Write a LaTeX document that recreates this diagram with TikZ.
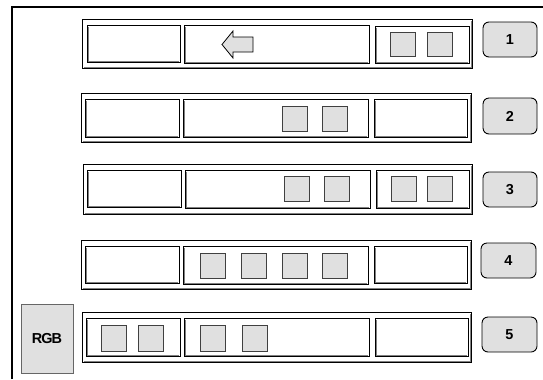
\documentclass[tikz,border=0pt]{standalone}
\usepackage{fontspec}
\setmainfont{Liberation Sans}
\definecolor{lgray}{HTML}{E0E0E0}
\definecolor{mgray}{HTML}{808080}
\tikzset{
  outerbox/.style={draw=black,line width=1bp},
  innerbox/.style={draw=black,line width=1bp},
  shade/.style={draw=mgray,line width=1bp},
  sq/.style={draw=black!75,fill=lgray,line width=0.8bp},
  lab/.style={draw=black,fill=lgray,rounded corners=6bp,line width=0.9bp},
  labtext/.style={font=\bfseries\fontsize{14.5}{16}\selectfont,inner sep=0pt},
  frameline/.style={draw=black,line width=2bp}
}
\newcommand{\ibox}[4]{%
  \draw[innerbox] (#1,#2) rectangle (#3,#4);
  \draw[shade] (#1+1.5,#2+1.5) -- (#1+1.5,#4-1) -- (#3-1,#4-1);
}
\newcommand{\obox}[4]{%
  \draw[outerbox] (#1,#2) rectangle (#3,#4);
  \draw[shade] (#1+1.5,#4-1) -- (#3-1,#4-1) -- (#3-1,#2+1.5);
}
\begin{document}
\begin{tikzpicture}[x=1bp,y=-1bp]
\useasboundingbox (0,0) rectangle (543,379);
\fill[white] (0,0) rectangle (543,379);
% frame
\draw[frameline] (12,379) -- (12,7) -- (543,7);

% Row 1
\obox{82}{19}{472}{68}
\ibox{87}{25}{180}{62}
\ibox{184}{25}{369}{63}
\ibox{375}{26}{469}{63}
\draw[sq] (390,32) rectangle (415,56);
\draw[sq] (427,32) rectangle (452,56);
\draw[draw=black,fill=lgray,line width=0.8bp]
  (222,44.5) -- (233,31) -- (233,37) -- (253,37) -- (253,52) -- (233,52) -- (233,58) -- cycle;
\draw[lab] (483,22) rectangle (537,57);
\node[labtext] (l1) at (510,39.5) {1};

% Row 2
\obox{81}{93}{471}{142}
\ibox{85}{99}{179}{137}
\ibox{183}{99}{368}{137}
\ibox{374}{99}{467}{137}
\draw[sq] (282,106) rectangle (307,131);
\draw[sq] (322,106) rectangle (347,131);
\draw[lab] (483,98) rectangle (537,134);
\node[labtext] (l2) at (510,116) {2};

% Row 3
\obox{83}{164}{472}{214}
\ibox{87}{170}{181}{207}
\ibox{185}{170}{370}{208}
\ibox{376}{170}{469}{208}
\draw[sq] (284,176) rectangle (309,201);
\draw[sq] (324,176) rectangle (349,201);
\draw[sq] (391,176) rectangle (416,201);
\draw[sq] (427,176) rectangle (452,201);
\draw[lab] (483,172) rectangle (537,207);
\node[labtext] (l3) at (510,189.5) {3};

% Row 4
\obox{81}{240}{471}{289}
\ibox{85}{246}{179}{283}
\ibox{183}{246}{368}{284}
\ibox{374}{246}{467}{283}
\draw[sq] (200,253) rectangle (225,278);
\draw[sq] (241,253) rectangle (266,278);
\draw[sq] (282,253) rectangle (307,278);
\draw[sq] (322,253) rectangle (347,278);
\draw[lab] (481,243) rectangle (536,278);
\node[labtext] (l4) at (508.5,260.5) {4};

% Row 5
\obox{82}{312}{471}{362}
\ibox{86}{318}{180}{356}
\ibox{184}{318}{369}{356}
\ibox{375}{318}{468}{356}
\draw[sq] (101,325) rectangle (126,351);
\draw[sq] (138,325) rectangle (163,351);
\draw[sq] (200,325) rectangle (225,351);
\draw[sq] (242,325) rectangle (267,351);
\draw[lab] (482,317) rectangle (537,352);
\node[labtext] (l5) at (509.5,334.5) {5};

% RGB box
\draw[draw=mgray!80!black,fill=lgray,line width=0.8bp] (21,304) rectangle (73,373);
\node[labtext,font=\bfseries\fontsize{14.5}{16}\selectfont\addfontfeature{LetterSpace=-7}] (rgb) at (47,338.5) {RGB};
\end{tikzpicture}
\end{document}
